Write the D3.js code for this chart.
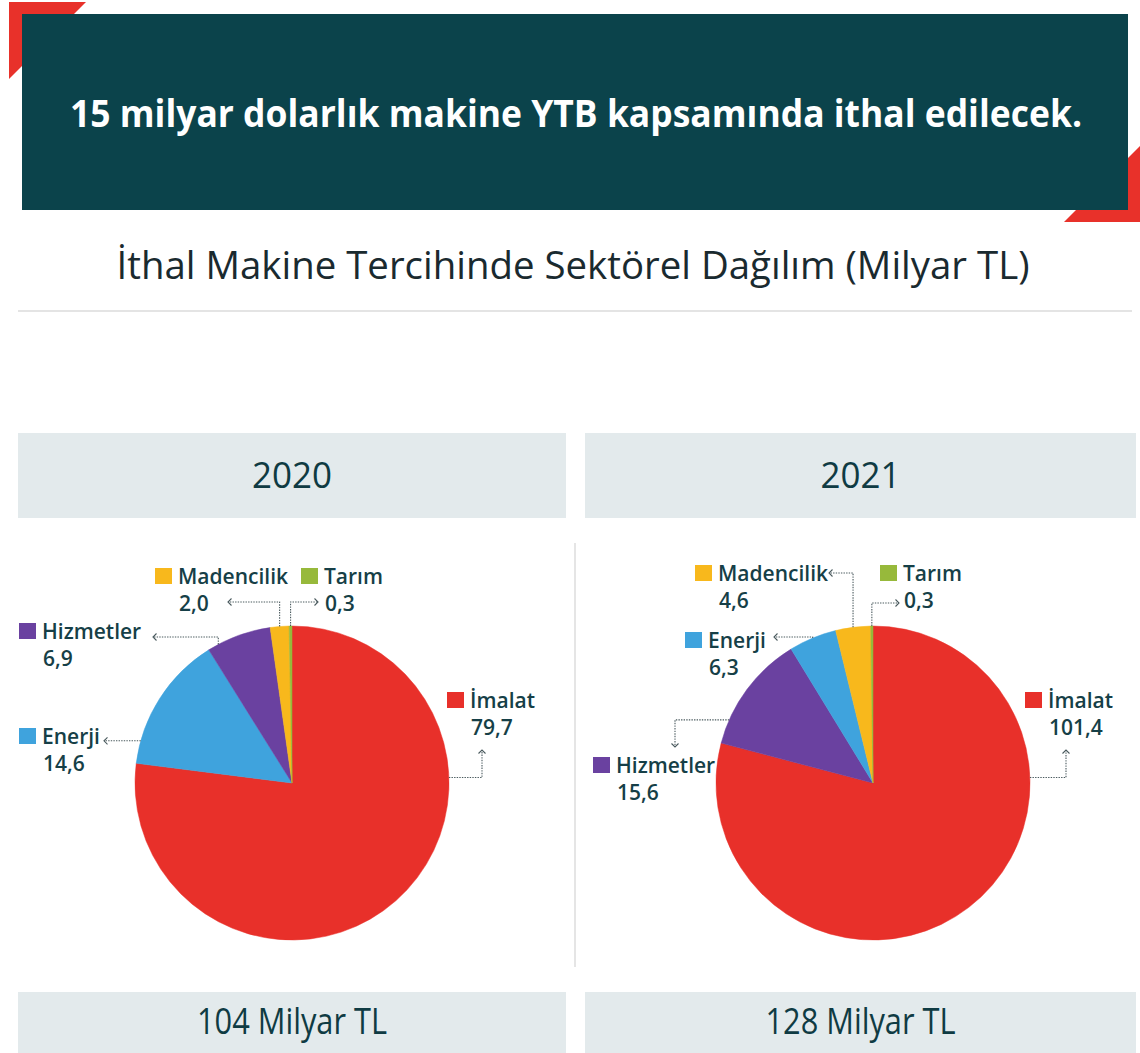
<!DOCTYPE html>
<html>
<head>
<meta charset="utf-8">
<script src="https://cdn.jsdelivr.net/npm/d3@7"></script>
<style>
  html, body { margin: 0; padding: 0; background: #ffffff; }
  svg { display: block; }
</style>
</head>
<body>
<svg id="chart" width="1140" height="1053"></svg>
<script>
// ---------------- DATA ----------------
const headline = "15 milyar dolarlık makine YTB kapsamında ithal edilecek.";
const subtitle = "İthal Makine Tercihinde Sektörel Dağılım (Milyar TL)";
const years = ["2020", "2021"];
const totals = ["104 Milyar TL", "128 Milyar TL"];
const sectors2020 = ["İmalat", "Enerji", "Hizmetler", "Madencilik", "Tarım"];
const values2020 = [79.7, 14.6, 6.9, 2.0, 0.3];
const sectors2021 = ["İmalat", "Hizmetler", "Enerji", "Madencilik", "Tarım"];
const values2021 = [101.4, 15.6, 6.3, 4.6, 0.3];
const sectorNames = ["İmalat", "Enerji", "Hizmetler", "Madencilik", "Tarım"];
const sectorColors = ["#e8302a", "#3fa3dd", "#6a41a0", "#f8b81c", "#97b93b"];

// ---------------- STYLE / LAYOUT ----------------
const W = 1140, H = 1053;
const FONT = "'Open Sans', 'Noto Sans', sans-serif";
const TEXT_DARK = "#163f47";
const fmt = v => d3.format(".1f")(v).replace(".", ",");
const color = d3.scaleOrdinal().domain(sectorNames).range(sectorColors);

const svg = d3.select("#chart");

// red corner accents
svg.append("polygon").attr("points", "9,2 86,2 9,79").attr("fill", "#e8312a");
svg.append("polygon").attr("points", "1140,146 1140,222 1064,222").attr("fill", "#e8312a");
// headline box
svg.append("rect").attr("x", 22).attr("y", 14).attr("width", 1106).attr("height", 196).attr("fill", "#0b434b");
svg.append("text").attr("x", 576).attr("y", 127).attr("text-anchor", "middle")
  .attr("font-family", FONT).attr("font-weight", 700).attr("font-size", 37)
  .attr("fill", "#ffffff").attr("textLength", 1012).attr("lengthAdjust", "spacingAndGlyphs")
  .text(headline);

// subtitle
svg.append("text").attr("x", 573).attr("y", 279).attr("text-anchor", "middle")
  .attr("font-family", FONT).attr("font-weight", 400).attr("font-size", 38)
  .attr("fill", "#1a2a2f").attr("textLength", 913).attr("lengthAdjust", "spacingAndGlyphs")
  .text(subtitle);
svg.append("rect").attr("x", 18).attr("y", 310).attr("width", 1114).attr("height", 2).attr("fill", "#e4e4e4");

// divider between panels
svg.append("line").attr("x1", 575).attr("x2", 575).attr("y1", 543).attr("y2", 967)
  .attr("stroke", "#dcdcdc").attr("stroke-width", 1.5);

const panels = [
  { year: years[0], total: totals[0], sectors: sectors2020, values: values2020,
    boxX: 18, boxW: 548, cx: 292,
    labels: {
      "İmalat":     { sq: [155, -91],  touch: 88,    kind: "hv", p1: 190, p2: -33,  arrow: "up" },
      "Enerji":     { sq: [-273, -55], touch: 285.6, kind: "h",  p1: -188,          arrow: "left" },
      "Hizmetler":  { sq: [-273, -160],touch: 332,   kind: "vh", p1: -146, p2: -139, arrow: "left" },
      "Madencilik": { sq: [-137, -215],touch: null,  kind: "vh", p1: -181, p2: -64,  arrow: "left" },
      "Tarım":      { sq: [9, -215],   touch: null,  kind: "vh", p1: -181, p2: 26,   arrow: "right" }
    } },
  { year: years[1], total: totals[1], sectors: sectors2021, values: values2021,
    boxX: 585, boxW: 551, cx: 873,
    labels: {
      "İmalat":     { sq: [152, -91],  touch: 88,    kind: "hv", p1: 193, p2: -33,  arrow: "up" },
      "Hizmetler":  { sq: [-280, -26], touch: 293.7, kind: "hv", p1: -198, p2: -36, arrow: "down" },
      "Enerji":     { sq: [-188, -151],touch: null,  kind: "vh", p1: -146, p2: -99, arrow: "left" },
      "Madencilik": { sq: [-178, -218],touch: null,  kind: "vh", p1: -210, p2: -44, arrow: "left" },
      "Tarım":      { sq: [7, -218],   touch: null,  kind: "vh", p1: -180, p2: 26,  arrow: "right" }
    } }
];

const cy = 783, R = 157;
const pie = d3.pie().sort(null).value(d => d.v);
const arc = d3.arc().innerRadius(0).outerRadius(R);

panels.forEach(p => {
  // year header box
  svg.append("rect").attr("x", p.boxX).attr("y", 433).attr("width", p.boxW).attr("height", 85).attr("fill", "#e3eaec");
  svg.append("text").attr("x", p.boxX + p.boxW / 2).attr("y", 488).attr("text-anchor", "middle")
    .attr("font-family", FONT).attr("font-weight", 500).attr("font-size", 37)
    .attr("fill", "#0f3b43").attr("textLength", 80).attr("lengthAdjust", "spacingAndGlyphs").text(p.year);
  // total box
  svg.append("rect").attr("x", p.boxX).attr("y", 992).attr("width", p.boxW).attr("height", 61).attr("fill", "#e3eaec");
  svg.append("text").attr("x", p.boxX + p.boxW / 2).attr("y", 1034).attr("text-anchor", "middle")
    .attr("font-family", FONT).attr("font-weight", 500).attr("font-size", 36)
    .attr("fill", "#0f3b43").attr("textLength", 190).attr("lengthAdjust", "spacingAndGlyphs").text(p.total);

  const data = p.sectors.map((s, i) => ({ s, v: p.values[i] }));
  const arcs = pie(data);
  const g = svg.append("g").attr("transform", `translate(${p.cx},${cy})`);
  g.selectAll("path.slice").data(arcs).enter().append("path")
    .attr("class", "slice").attr("d", arc).attr("fill", d => color(d.data.s))
    .attr("stroke", d => color(d.data.s)).attr("stroke-width", 0.5);

  arcs.forEach(a => {
    const L = p.labels[a.data.s];
    const ang = L.touch != null ? L.touch * Math.PI / 180 : (a.startAngle + a.endAngle) / 2;
    const ex = R * Math.sin(ang), ey = -R * Math.cos(ang);
    let pts;
    if (L.kind === "h") pts = [[ex, ey], [L.p1, ey]];
    else if (L.kind === "vh") pts = [[ex, ey], [ex, L.p1], [L.p2, L.p1]];
    else pts = [[ex, ey], [L.p1, ey], [L.p1, L.p2]];
    g.append("path").attr("d", d3.line()(pts)).attr("fill", "none")
      .attr("stroke", "#4a5a5e").attr("stroke-width", 1.1).attr("stroke-dasharray", "1.4 1.2");
    // arrowhead
    const [tx, ty] = pts[pts.length - 1];
    const s = 3.5;
    let ah;
    if (L.arrow === "left") ah = [[tx + s, ty - s], [tx, ty], [tx + s, ty + s]];
    else if (L.arrow === "right") ah = [[tx - s, ty - s], [tx, ty], [tx - s, ty + s]];
    else if (L.arrow === "up") ah = [[tx - s, ty + s], [tx, ty], [tx + s, ty + s]];
    else ah = [[tx - s, ty - s], [tx, ty], [tx + s, ty - s]];
    g.append("path").attr("d", d3.line()(ah)).attr("fill", "none")
      .attr("stroke", "#4a5a5e").attr("stroke-width", 1.1);

    // legend square + texts
    const [sx, sy] = L.sq;
    g.append("rect").attr("x", sx).attr("y", sy).attr("width", 17).attr("height", 16).attr("fill", color(a.data.s));
    g.append("text").attr("x", sx + 23).attr("y", sy + 16)
      .attr("font-family", FONT).attr("font-weight", 600).attr("font-size", 21)
      .attr("fill", TEXT_DARK).text(a.data.s);
    g.append("text").attr("x", sx + 24).attr("y", sy + 43)
      .attr("font-family", FONT).attr("font-weight", 600).attr("font-size", 21)
      .attr("fill", TEXT_DARK).text(fmt(a.data.v));
  });
});
</script>
</body>
</html>
